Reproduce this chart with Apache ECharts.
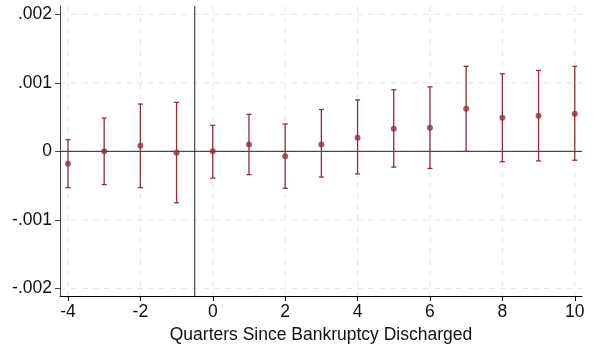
<!DOCTYPE html>
<html>
<head>
<meta charset="utf-8">
<script src="https://cdn.jsdelivr.net/npm/echarts@6/dist/echarts.min.js"></script>
<style>html,body{margin:0;padding:0;background:#fff}#c{width:595px;height:349px}</style>
</head>
<body>
<div id="c"></div>
<script>
const quarters = [-4, -3, -2, -1, 0, 1, 2, 3, 4, 5, 6, 7, 8, 9, 10];
const estimates = [-0.00018, 0.0, 0.00008, -0.00002, 0.0, 0.0001, -0.00007, 0.0001, 0.0002, 0.00033, 0.000345, 0.00062, 0.00049, 0.00052, 0.00055];
const ciUpper = [0.00017, 0.000486, 0.00069, 0.000714, 0.00038, 0.00054, 0.0004, 0.00061, 0.00075, 0.0009, 0.00094, 0.00124, 0.00113, 0.00118, 0.00124];
const ciLower = [-0.00053, -0.000486, -0.00053, -0.00075, -0.00039, -0.00034, -0.00054, -0.000375, -0.00033, -0.00023, -0.00025, 0.0, -0.00015, -0.00014, -0.00013];
const xTicks = [-4, -2, 0, 2, 4, 6, 8, 10];
const yTicks = [-0.002, -0.001, 0, 0.001, 0.002];
const eventLine = -0.5;
const xTitle = 'Quarters Since Bankruptcy Discharged';

const col = '#8f2f3b';
const font = 'Liberation Sans, Arial, sans-serif';
const fmtY = v => {
  if (Math.abs(v) < 1e-12) return '0';
  let s = v.toFixed(3);
  return s.replace(/^(-?)0\./, '$1.');
};

const chart = echarts.init(document.getElementById('c'), null, {renderer: 'canvas'});
const errData = quarters.map((q, i) => [q, ciLower[i], ciUpper[i]]);
const ptData = quarters.map((q, i) => [q, estimates[i]]);
const gridData = xTicks.map(v => [0, v]).concat(yTicks.map(v => [1, v]));
const refData = [[0, eventLine], [1, 0]];

function refLines(color, dash, width) {
  return function (params, api) {
    const cs = params.coordSys;
    const kind = api.value(0), v = api.value(1);
    let shape;
    if (kind === 0) {
      const x = api.coord([v, 0])[0];
      shape = {x1: x, y1: cs.y, x2: x, y2: cs.y + cs.height};
    } else {
      const y = api.coord([0, v])[1];
      shape = {x1: cs.x, y1: y, x2: cs.x + cs.width, y2: y};
    }
    const c = typeof color === 'function' ? color(kind) : color;
    const w = typeof width === 'function' ? width(kind) : width;
    return {type: 'line', shape: shape, style: {stroke: c, lineWidth: w, lineDash: dash}};
  };
}

chart.setOption({
  animation: false,
  grid: {left: 60, right: 13, top: 6, bottom: 53, containLabel: false},
  xAxis: {
    type: 'value', min: -4.22, max: 10.2,
    name: xTitle, nameLocation: 'middle', nameGap: 28,
    nameTextStyle: {fontFamily: font, fontSize: 17.5, color: '#111'},
    axisLine: {show: true, onZero: false, lineStyle: {color: '#000', width: 1}},
    axisTick: {show: true, length: 5, customValues: xTicks, lineStyle: {color: '#000'}},
    axisLabel: {customValues: xTicks, margin: 7, fontFamily: font, fontSize: 17.5, color: '#111'},
    splitLine: {show: false}
  },
  yAxis: {
    type: 'value', min: -0.00211, max: 0.00212,
    axisLine: {show: true, onZero: false, lineStyle: {color: '#444', width: 1}},
    axisTick: {show: true, length: 5, customValues: yTicks, lineStyle: {color: '#444'}},
    axisLabel: {customValues: yTicks, margin: 8, fontFamily: font, fontSize: 17.5, color: '#111', formatter: fmtY},
    splitLine: {show: false}
  },
  series: [
    {
      type: 'custom', data: gridData, silent: true, z: 0, clip: true,
      encode: {x: -1, y: -1},
      renderItem: refLines('#e6e6e6', [6, 5], 1)
    },
    {
      type: 'custom', data: refData, silent: true, z: 1,
      encode: {x: -1, y: -1},
      renderItem: refLines(k => k === 0 ? '#555' : '#222', null, k => k === 0 ? 1.3 : 1)
    },
    {
      type: 'custom', data: errData, silent: true, z: 5,
      renderItem: function (params, api) {
        const x = api.value(0);
        const lo = api.coord([x, api.value(1)]);
        const hi = api.coord([x, api.value(2)]);
        const w = 2.5;
        const st = {stroke: col, lineWidth: 1.3};
        return {type: 'group', children: [
          {type: 'line', shape: {x1: lo[0], y1: lo[1], x2: hi[0], y2: hi[1]}, style: st},
          {type: 'line', shape: {x1: lo[0] - w, y1: lo[1], x2: lo[0] + w, y2: lo[1]}, style: st},
          {type: 'line', shape: {x1: hi[0] - w, y1: hi[1], x2: hi[0] + w, y2: hi[1]}, style: st}
        ]};
      }
    },
    {
      type: 'scatter', data: ptData, symbol: 'circle', symbolSize: 6, z: 6,
      itemStyle: {color: col}, silent: true
    }
  ]
});
</script>
</body>
</html>
